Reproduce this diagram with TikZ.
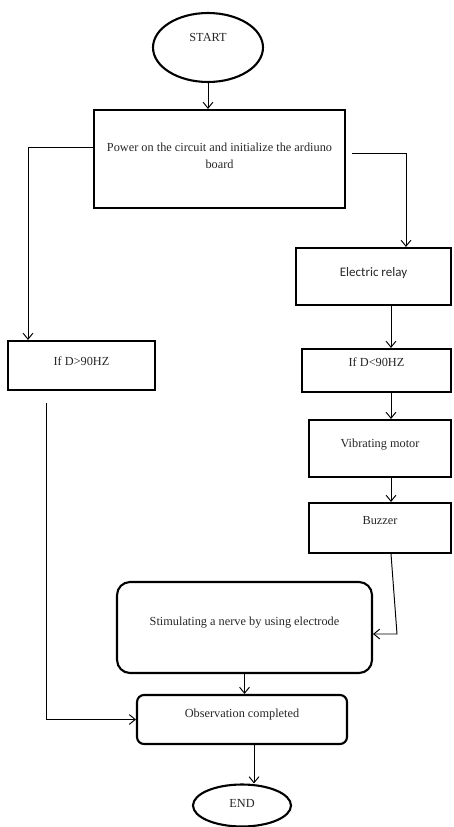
\documentclass[tikz,border=0pt]{standalone}
\usepackage{fontspec}
\setmainfont{Liberation Serif}
\newfontfamily\calibri{Carlito}
\usepackage{tikz}
\usetikzlibrary{arrows,arrows.meta,positioning,calc,shapes.geometric}

\begin{document}
\begin{tikzpicture}[->,>={Straight Barb[length=3.4pt,width=5.6pt]},line width=0.55pt,x=0.02cm,y=-0.02cm,
 box/.style={draw,very thick,align=center,text=black!85,inner sep=1pt,
  font=\fontsize{7}{9.7}\selectfont},
 term/.style={box,ellipse}]
 \useasboundingbox (0,0) rectangle (453,827);
 \node[term, minimum width=2.2cm, minimum height=1.38cm, text depth=11pt] (start) at (208,47.5) {START};
 \node[box, minimum width=5.02cm, minimum height=1.96cm, text depth=4pt] (power) at (219.5,159) {Power on the circuit and initialize the ardiuno\\board};
 \node[box, minimum width=3.1cm, minimum height=1.14cm, text depth=5pt, font=\calibri\fontsize{7.4}{9}\selectfont] (relay) at (373.5,276.5) {Electric relay};
 \node[box, minimum width=2.98cm, minimum height=0.86cm, text depth=9.3pt] (lt) at (376.5,370.5) {If D<90HZ};
 \node[box, minimum width=2.84cm, minimum height=1.14cm, text depth=6pt] (vib) at (380,448.5) {Vibrating motor};
 \node[box, minimum width=2.84cm, minimum height=1cm, text depth=8.8pt] (buzz) at (380,528) {Buzzer};
 \node[box, minimum width=2.94cm, minimum height=0.98cm, text depth=5pt] (gt) at (81.5,365.5) {If D>90HZ};
 \node[box, rounded corners=0.26cm, minimum width=5.1cm, minimum height=1.82cm, text depth=7.6pt] (stim) at (244.5,627.5) {Stimulating a nerve by using electrode};
 \node[box, rounded corners=0.14cm, minimum width=4.2cm, minimum height=0.98cm, text depth=7.6pt] (obs) at (242,719.5) {Observation completed};
 \node[term, minimum width=1.96cm, minimum height=0.84cm, text depth=2.6pt] (end) at (242,805.5) {END};
 % line columns
 \coordinate (lcol) at (28,0);
 \coordinate (rcol) at (406,0);
 \coordinate (col) at (391,0);
 \coordinate (gcol) at (46,0);
 \coordinate (ecol) at (254,0);
 \coordinate (bz) at (397,634);
 \draw (start.south) -- (start.south |- power.north);
 \draw ([yshift=0.24cm]power.west) -| (lcol |- gt.north);
 \draw ([shift={(0.12cm,0.12cm)}]power.east) -| (rcol |- relay.north);
 \draw (relay.south -| col) -- (lt.north -| col);
 \draw (lt.south -| col) -- (vib.north -| col);
 \draw (vib.south -| col) -- (buzz.north -| col);
 \draw (buzz.south -| col) -- (bz) -- (stim.east |- bz);
 \draw ($(gt.south -| gcol)+(0,12)$) |- (obs.west);
 \draw (stim.south) -- (stim.south |- obs.north);
 \draw (obs.south -| ecol) -- (end.north -| ecol);
\end{tikzpicture}
\end{document}
